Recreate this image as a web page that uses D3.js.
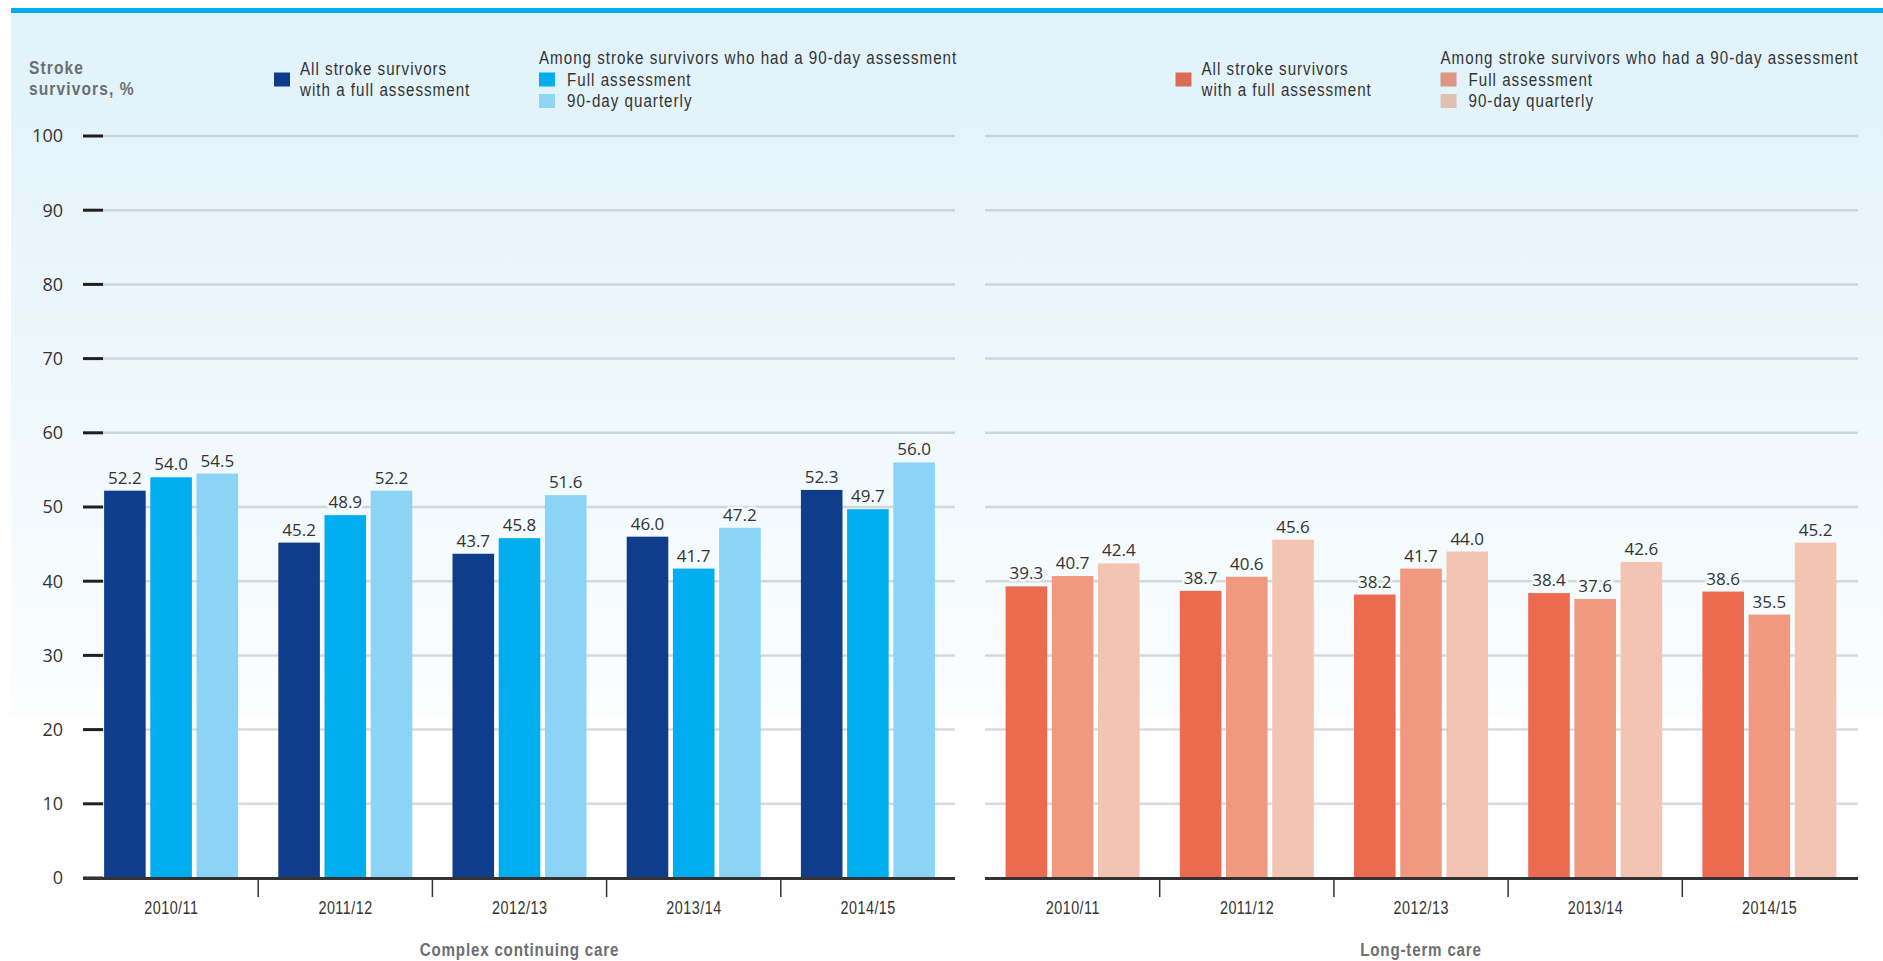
<!DOCTYPE html>
<html>
<head>
<meta charset="utf-8">
<script src="https://cdn.jsdelivr.net/npm/d3@7"></script>
<style>
  html, body { margin: 0; padding: 0; background: #ffffff; }
  svg { display: block; }
</style>
</head>
<body>
<svg id="chart" width="1883" height="961"></svg>
<script>
// ---- data ----
const years = ["2010/11", "2011/12", "2012/13", "2013/14", "2014/15"];
const seriesKeys = ["all", "full", "quarterly"];
const yTicks = [0, 10, 20, 30, 40, 50, 60, 70, 80, 90, 100];

const cccAll       = [52.2, 45.2, 43.7, 46.0, 52.3];
const cccFull      = [54.0, 48.9, 45.8, 41.7, 49.7];
const cccQuarterly = [54.5, 52.2, 51.6, 47.2, 56.0];

const ltcAll       = [39.3, 38.7, 38.2, 38.4, 38.6];
const ltcFull      = [40.7, 40.6, 41.7, 37.6, 35.5];
const ltcQuarterly = [42.4, 45.6, 44.0, 42.6, 45.2];

const panelTitles = ["Complex continuing care", "Long-term care"];
const legendAllLines = ["All stroke survivors", "with a full assessment"];
const legendGroupHeading = "Among stroke survivors who had a 90-day assessment";
const legendGroupItems = ["Full assessment", "90-day quarterly"];
const yAxisTitle = ["Stroke", "survivors, %"];

const blueBars   = ["#103c8c", "#00adee", "#8bd4f5"];
const redBars    = ["#ec6a50", "#f09880", "#f4c4b2"];
const blueSwatch = ["#0f3b8b", "#00adef", "#8ed5f6"];
const redSwatch  = ["#dc6a55", "#dc9682", "#dfc1b3"];

// ---- setup ----
const svg = d3.select("#chart");
const W = 1883, H = 961;
const defs = svg.append("defs");

// background panel: light blue fading to white
const bgTop = 13, bgBottom = 716;
const bgStops = [[0, "#e0f2fa"], [1, "#fbfdfe"]];
const grad = defs.append("linearGradient")
  .attr("id", "bg").attr("x1", 0).attr("y1", 0).attr("x2", 0).attr("y2", 1);
bgStops.forEach(s => grad.append("stop").attr("offset", s[0]).attr("stop-color", s[1]));
const bgColorAt = yy => {
  if (yy >= bgBottom) return "#ffffff";
  const t = Math.max(0, (yy - bgTop) / (bgBottom - bgTop));
  return d3.interpolateRgb(bgStops[0][1], bgStops[1][1])(t);
};

svg.append("rect").attr("x", 11).attr("y", bgTop).attr("width", W - 11).attr("height", bgBottom - bgTop)
  .attr("fill", "url(#bg)");
svg.append("rect").attr("x", 11).attr("y", 8).attr("width", W - 11).attr("height", 5).attr("fill", "#00aeef");

const y = d3.scaleLinear().domain([0, 100]).range([878, 136]);

// condensed lettering: Liberation Sans squeezed horizontally
const SQ = 0.82;
const narrowFont = "'Liberation Sans', Arial, sans-serif";
const sans = "'Open Sans', 'Noto Sans', sans-serif";
function narrow(sel, xf, yf, size, spacing, bold) {
  return sel.attr("transform", (d, i) => `translate(${typeof xf === "function" ? xf(d, i) : xf},${typeof yf === "function" ? yf(d, i) : yf}) scale(${SQ},1)`)
    .attr("font-family", narrowFont).attr("font-size", size)
    .attr("letter-spacing", spacing / SQ)
    .attr("font-weight", bold ? "bold" : "normal");
}

const panels = [
  { title: panelTitles[0], values: [cccAll, cccFull, cccQuarterly], bars: blueBars, swatch: blueSwatch,
    range: [84, 955], grid: [103, 955], axis: [83, 955], showY: true },
  { title: panelTitles[1], values: [ltcAll, ltcFull, ltcQuarterly], bars: redBars, swatch: redSwatch,
    range: [985.5, 1856.5], grid: [985, 1858], axis: [985, 1858], showY: false }
];

panels.forEach(p => {
  const g = svg.append("g");
  const x0 = d3.scaleBand().domain(years).range(p.range).padding(0);
  const step = x0.step();
  const groupW = 134;
  const x1 = d3.scaleBand().domain(seriesKeys)
    .range([(step - groupW) / 2, (step + groupW) / 2]).paddingInner(0.1).paddingOuter(0);

  // gridlines
  g.append("g").selectAll("line").data(yTicks.filter(t => t > 0)).join("line")
    .attr("x1", p.grid[0]).attr("x2", p.grid[1])
    .attr("y1", d => y(d)).attr("y2", d => y(d))
    .attr("stroke", "rgba(150,160,170,0.38)").attr("stroke-width", 2.5);

  // y axis ticks and labels
  if (p.showY) {
    const ya = g.append("g");
    ya.selectAll("line").data(yTicks).join("line")
      .attr("x1", 83).attr("x2", 103).attr("y1", d => y(d)).attr("y2", d => y(d))
      .attr("stroke", "#231f20").attr("stroke-width", 3);
    ya.selectAll("text").data(yTicks).join("text")
      .attr("x", 63).attr("y", d => y(d)).attr("dy", "0.36em")
      .attr("text-anchor", "end").attr("font-family", sans).attr("font-size", 18)
      .attr("fill", "#333333").text(d => d);
  }

  // bars
  const rows = years.map((yr, i) => ({ yr, vals: seriesKeys.map((k, j) => ({ k, j, v: p.values[j][i] })) }));
  const grp = g.selectAll("g.year").data(rows).join("g").attr("class", "year")
    .attr("transform", d => `translate(${x0(d.yr)},0)`);
  grp.selectAll("rect").data(d => d.vals).join("rect")
    .attr("x", d => x1(d.k)).attr("width", x1.bandwidth())
    .attr("y", d => y(d.v)).attr("height", d => y(0) - y(d.v))
    .attr("fill", d => p.bars[d.j]);
  grp.selectAll("text").data(d => d.vals).join("text")
    .attr("x", d => x1(d.k) + x1.bandwidth() / 2).attr("y", d => y(d.v) - 7)
    .attr("text-anchor", "middle").attr("font-family", sans).attr("font-size", 17)
    .attr("fill", "#333333")
    .attr("stroke", d => bgColorAt(y(d.v) - 12)).attr("stroke-width", 5)
    .attr("paint-order", "stroke").attr("stroke-linejoin", "round")
    .text(d => d.v.toFixed(1));

  // baseline and category separators
  g.append("line").attr("x1", p.axis[0]).attr("x2", p.axis[1]).attr("y1", y(0) + 0.5).attr("y2", y(0) + 0.5)
    .attr("stroke", "#333333").attr("stroke-width", 3);
  g.append("g").selectAll("line").data(years.slice(1)).join("line")
    .attr("x1", d => x0(d)).attr("x2", d => x0(d)).attr("y1", y(0) + 1).attr("y2", y(0) + 19)
    .attr("stroke", "#333333").attr("stroke-width", 1.5);

  // category labels
  narrow(g.append("g").selectAll("text").data(years).join("text"),
      d => x0(d) + step / 2 + 0.25, 914, 17.5, 0.5, false)
    .attr("text-anchor", "middle").attr("fill", "#333333").text(d => d);

  // panel title
  narrow(g.append("text"), (p.range[0] + p.range[1]) / 2, 956, 18.5, 0.8, true)
    .attr("text-anchor", "middle").attr("fill", "#6d6e71").text(p.title);

  // legend
  const ox = p.range[0];
  const lg = svg.append("g").attr("fill", "#333333");
  const LS = 18.5, LSP = 1.0;
  lg.append("rect").attr("x", ox + 190).attr("y", 72.5).attr("width", 16).attr("height", 14)
    .attr("fill", p.swatch[0]);
  narrow(lg.selectAll("text.all").data(legendAllLines).join("text").attr("class", "all"),
      ox + 216, (d, i) => 75 + i * 21, LS, LSP, false).text(d => d);
  narrow(lg.append("text"), ox + 455, 64, LS, LSP, false).text(legendGroupHeading);
  lg.selectAll("rect.sw").data(legendGroupItems).join("rect").attr("class", "sw")
    .attr("x", ox + 455).attr("y", (d, i) => 72.5 + i * 21.5).attr("width", 16).attr("height", 14)
    .attr("fill", (d, i) => p.swatch[i + 1]);
  narrow(lg.selectAll("text.it").data(legendGroupItems).join("text").attr("class", "it"),
      ox + 483, (d, i) => 86 + i * 21, LS, LSP, false).text(d => d);
});

// y axis title
narrow(svg.append("g").attr("fill", "#6d6e71").selectAll("text").data(yAxisTitle).join("text"),
    29, (d, i) => 74 + i * 21, 19, 1.1, true).text(d => d);
</script>
</body>
</html>
